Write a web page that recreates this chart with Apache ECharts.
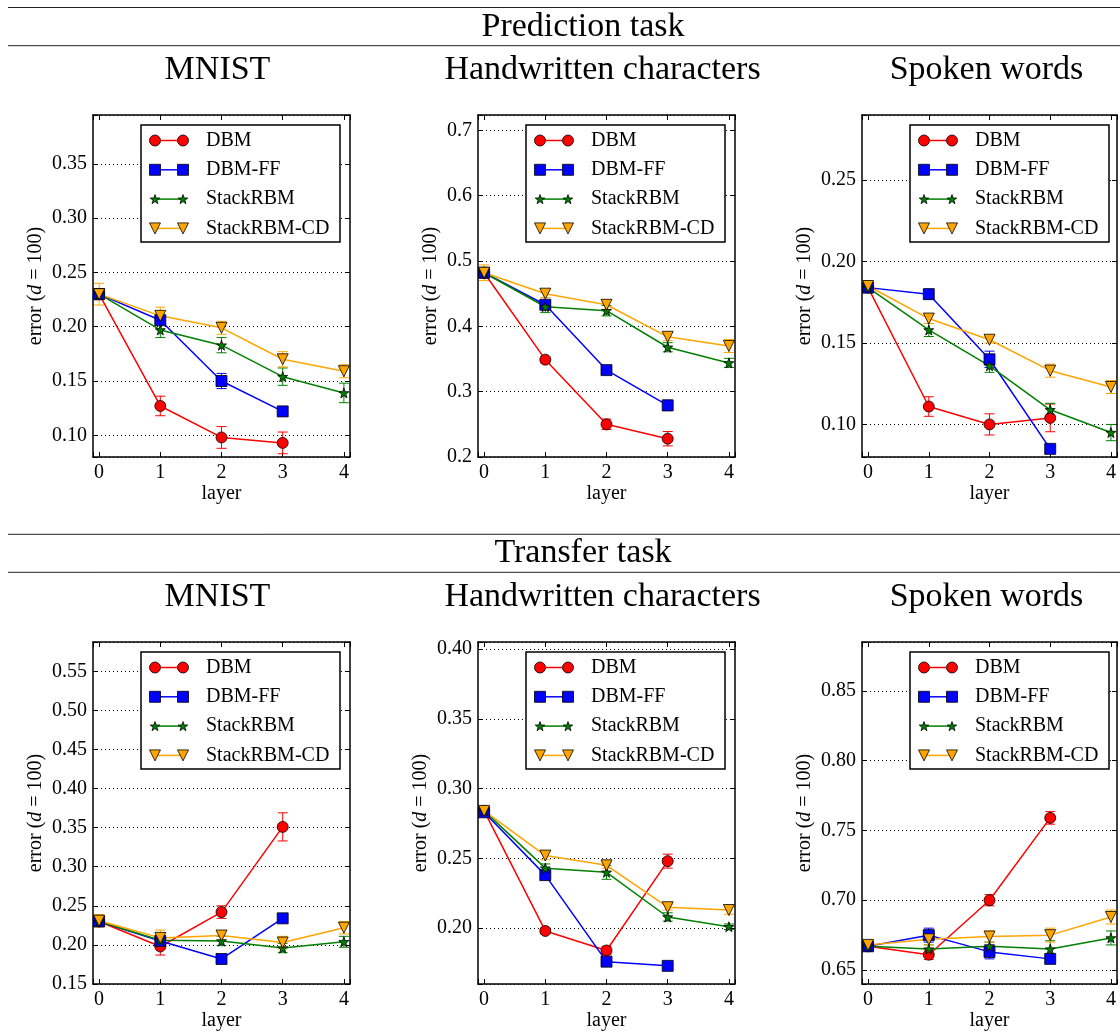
<!DOCTYPE html>
<html><head><meta charset="utf-8">
<script src="https://cdn.jsdelivr.net/npm/echarts@6/dist/echarts.min.js"></script>
<style>html,body{margin:0;padding:0;background:#fff}#c{width:1120px;height:1032px}</style>
</head><body><div id="c"></div><script>
// ---------- data ----------
const layers = [0, 1, 2, 3, 4];
const seriesNames = ['DBM', 'DBM-FF', 'StackRBM', 'StackRBM-CD'];
const panelTitles = ['MNIST', 'Handwritten characters', 'Spoken words'];
const sectionTitles = ['Prediction task', 'Transfer task'];
const xAxisName = 'layer';

// Prediction task - MNIST
const predMnistDBM = [0.230, 0.127, 0.098, 0.093];
const predMnistDBMErr = [0.005, 0.009, 0.010, 0.010];
const predMnistFF = [0.230, 0.206, 0.150, 0.122];
const predMnistFFErr = [0.005, 0.004, 0.007, 0.003];
const predMnistStack = [0.230, 0.197, 0.183, 0.154, 0.139];
const predMnistStackErr = [0.005, 0.007, 0.007, 0.008, 0.009];
const predMnistCD = [0.230, 0.210, 0.199, 0.170, 0.159];
const predMnistCDErr = [0.010, 0.008, 0.006, 0.007, 0.006];
// Prediction task - Handwritten characters
const predHandDBM = [0.482, 0.349, 0.250, 0.228];
const predHandDBMErr = [0.008, 0.005, 0.008, 0.011];
const predHandFF = [0.482, 0.433, 0.333, 0.279];
const predHandFFErr = [0.006, 0.006, 0.004, 0.008];
const predHandStack = [0.482, 0.430, 0.424, 0.368, 0.344];
const predHandStackErr = [0.006, 0.009, 0.008, 0.007, 0.007];
const predHandCD = [0.482, 0.450, 0.433, 0.384, 0.370];
const predHandCDErr = [0.012, 0.006, 0.007, 0.006, 0.010];
// Prediction task - Spoken words
const predSpokenDBM = [0.184, 0.111, 0.100, 0.104];
const predSpokenDBMErr = [0.002, 0.006, 0.0065, 0.0085];
const predSpokenFF = [0.184, 0.180, 0.140, 0.085];
const predSpokenFFErr = [0.002, 0.003, 0.005, 0.002];
const predSpokenStack = [0.184, 0.158, 0.136, 0.109, 0.095];
const predSpokenStackErr = [0.002, 0.004, 0.004, 0.004, 0.005];
const predSpokenCD = [0.185, 0.165, 0.152, 0.133, 0.123];
const predSpokenCDErr = [0.003, 0.003, 0.002, 0.004, 0.004];
// Transfer task - MNIST
const transMnistDBM = [0.230, 0.198, 0.242, 0.351];
const transMnistDBMErr = [0.006, 0.011, 0.008, 0.018];
const transMnistFF = [0.230, 0.205, 0.182, 0.234];
const transMnistFFErr = [0.006, 0.004, 0.003, 0.004];
const transMnistStack = [0.230, 0.206, 0.205, 0.196, 0.204];
const transMnistStackErr = [0.006, 0.005, 0.006, 0.006, 0.007];
const transMnistCD = [0.231, 0.209, 0.212, 0.203, 0.222];
const transMnistCDErr = [0.008, 0.010, 0.006, 0.008, 0.008];
// Transfer task - Handwritten characters
const transHandDBM = [0.284, 0.198, 0.184, 0.248];
const transHandDBMErr = [0.003, 0.002, 0.003, 0.005];
const transHandFF = [0.283, 0.238, 0.176, 0.173];
const transHandFFErr = [0.002, 0.002, 0.002, 0.002];
const transHandStack = [0.284, 0.243, 0.240, 0.208, 0.201];
const transHandStackErr = [0.003, 0.003, 0.005, 0.003, 0.002];
const transHandCD = [0.284, 0.252, 0.245, 0.215, 0.213];
const transHandCDErr = [0.003, 0.003, 0.002, 0.002, 0.003];
// Transfer task - Spoken words
const transSpokenDBM = [0.667, 0.661, 0.700, 0.759];
const transSpokenDBMErr = [0.002, 0.0035, 0.004, 0.0045];
const transSpokenFF = [0.667, 0.675, 0.663, 0.658];
const transSpokenFFErr = [0.002, 0.005, 0.005, 0.003];
const transSpokenStack = [0.667, 0.665, 0.667, 0.665, 0.673];
const transSpokenStackErr = [0.002, 0.003, 0.003, 0.006, 0.005];
const transSpokenCD = [0.668, 0.672, 0.674, 0.675, 0.688];
const transSpokenCDErr = [0.002, 0.004, 0.004, 0.005, 0.005];

// ---------- layout / style ----------
const FONT = '"Liberation Serif", "Times New Roman", serif';
const colors = ['#ff0000', '#0000ff', '#008000', '#ffa500'];
const STAR_PTS = [[0,-10],[2.35,-3.24],[9.51,-3.09],[3.8,1.24],[5.88,8.09],[0,4],[-5.88,8.09],[-3.8,1.24],[-9.51,-3.09],[-2.35,-3.24]];
const STAR = 'path://M' + STAR_PTS.map(q => q.join(',')).join(' L') + ' Z';
const symbols = ['circle', 'rect', STAR, 'triangle'];
const symbolSizes = [11, 11, 10, 11];
const symbolRot = [0, 0, 0, 180];
const colLeft = [93, 478, 862];
const rowTop = [115, 642];
const W = 257, H = 342;

const panels = [
  {row: 0, col: 0, min: 0.08, max: 0.395, step: 0.05, dec: 2, nameGap: 47,
   vals: [predMnistDBM, predMnistFF, predMnistStack, predMnistCD],
   errs: [predMnistDBMErr, predMnistFFErr, predMnistStackErr, predMnistCDErr]},
  {row: 0, col: 1, min: 0.2, max: 0.7235, step: 0.1, dec: 1, nameGap: 37,
   vals: [predHandDBM, predHandFF, predHandStack, predHandCD],
   errs: [predHandDBMErr, predHandFFErr, predHandStackErr, predHandCDErr]},
  {row: 0, col: 2, min: 0.08, max: 0.29, step: 0.05, dec: 2, nameGap: 47,
   vals: [predSpokenDBM, predSpokenFF, predSpokenStack, predSpokenCD],
   errs: [predSpokenDBMErr, predSpokenFFErr, predSpokenStackErr, predSpokenCDErr]},
  {row: 1, col: 0, min: 0.15, max: 0.5875, step: 0.05, dec: 2, nameGap: 47,
   vals: [transMnistDBM, transMnistFF, transMnistStack, transMnistCD],
   errs: [transMnistDBMErr, transMnistFFErr, transMnistStackErr, transMnistCDErr]},
  {row: 1, col: 1, min: 0.16, max: 0.405, step: 0.05, dec: 2, nameGap: 47,
   vals: [transHandDBM, transHandFF, transHandStack, transHandCD],
   errs: [transHandDBMErr, transHandFFErr, transHandStackErr, transHandCDErr]},
  {row: 1, col: 2, min: 0.64, max: 0.885, step: 0.05, dec: 2, nameGap: 47,
   vals: [transSpokenDBM, transSpokenFF, transSpokenStack, transSpokenCD],
   errs: [transSpokenDBMErr, transSpokenFFErr, transSpokenStackErr, transSpokenCDErr]}
];

const grids = [], xAxes = [], yAxes = [], series = [], graphics = [];
const axisLineStyle = {onZero: false, lineStyle: {color: '#000', width: 1.5}};
const tickStyle = {inside: true, length: 5, lineStyle: {color: '#000', width: 1}};

panels.forEach((p, i) => {
  const gl = colLeft[p.col], gt = rowTop[p.row];
  grids.push({left: gl, top: gt, width: W, height: H, show: false, containLabel: false});
  xAxes.push({gridIndex: i, type: 'value', min: -0.1, max: 4.1, minInterval: 1, maxInterval: 1,
    position: 'bottom', name: xAxisName, nameLocation: 'middle', nameGap: 25,
    nameTextStyle: {fontFamily: FONT, fontSize: 20, color: '#000'},
    axisLine: axisLineStyle, axisTick: tickStyle,
    axisLabel: {margin: 6, fontFamily: FONT, fontSize: 20, color: '#000',
      formatter: v => Math.abs(v - Math.round(v)) < 1e-6 ? String(Math.round(v)) : ''},
    splitLine: {show: false}});
  xAxes.push({gridIndex: i, type: 'value', min: -0.1, max: 4.1, minInterval: 1, maxInterval: 1,
    position: 'top', axisLine: axisLineStyle, axisTick: tickStyle,
    axisLabel: {show: false}, splitLine: {show: false}});
  const fmt = v => {
    const k = v / p.step;
    return Math.abs(k - Math.round(k)) < 1e-6 ? v.toFixed(p.dec) : '';
  };
  yAxes.push({gridIndex: i, type: 'value', min: p.min, max: p.max,
    minInterval: p.step, maxInterval: p.step, position: 'left',
    name: 'error ({i|d} = 100)', nameLocation: 'middle', nameRotate: 90, nameGap: p.nameGap,
    nameTextStyle: {fontFamily: FONT, fontSize: 20, color: '#000',
      rich: {i: {fontFamily: FONT, fontSize: 20, fontStyle: 'italic', color: '#000'}}},
    axisLine: axisLineStyle, axisTick: tickStyle,
    axisLabel: {margin: 6, fontFamily: FONT, fontSize: 20, color: '#000', formatter: fmt},
    splitLine: {show: true, lineStyle: {color: '#000', width: 1, type: [1, 3]}}});
  yAxes.push({gridIndex: i, type: 'value', min: p.min, max: p.max,
    minInterval: p.step, maxInterval: p.step, position: 'right',
    axisLine: axisLineStyle, axisTick: tickStyle,
    axisLabel: {show: false}, splitLine: {show: false}});

  seriesNames.forEach((name, s) => {
    const vals = p.vals[s], errs = p.errs[s];
    const col = colors[s];
    series.push({
      type: 'custom', name: name, xAxisIndex: 2 * i, yAxisIndex: 2 * i,
      data: vals.map((v, k) => [layers[k], v, errs[k]]),
      encode: {x: 0, y: 1},
      silent: true, z: 2,
      renderItem: (params, api) => {
        const x = api.value(0), v = api.value(1), e = api.value(2);
        const t = api.coord([x, v + e]), b = api.coord([x, v - e]);
        const st = {stroke: col, lineWidth: 1, fill: null};
        return {type: 'group', children: [
          {type: 'line', shape: {x1: t[0], y1: t[1], x2: b[0], y2: b[1]}, style: st},
          {type: 'line', shape: {x1: t[0] - 5, y1: t[1], x2: t[0] + 5, y2: t[1]}, style: st},
          {type: 'line', shape: {x1: b[0] - 5, y1: b[1], x2: b[0] + 5, y2: b[1]}, style: st}
        ]};
      }
    });
    series.push({
      type: 'line', name: name, xAxisIndex: 2 * i, yAxisIndex: 2 * i,
      data: vals.map((v, k) => [layers[k], v]),
      symbol: symbols[s], symbolSize: symbolSizes[s], symbolRotate: symbolRot[s],
      showSymbol: true, z: 2,
      lineStyle: {color: col, width: 1.5},
      itemStyle: {color: col, borderColor: '#000', borderWidth: 0.8},
      emphasis: {disabled: true}
    });
  });

  graphics.push({type: 'text', z: 60, style: {text: panelTitles[p.col], x: gl + W / 2 - 4,
    y: p.row === 0 ? 70.5 : 597.5, fontFamily: FONT, fontSize: 34, fill: '#000',
    align: 'center', verticalAlign: 'middle'}});

  const lw = 199, lh = 117;
  const lx = gl + W - 10 - lw, ly = gt + 10;
  graphics.push({type: 'rect', z: 50, shape: {x: lx, y: ly, width: lw, height: lh},
    style: {fill: '#fff', stroke: '#000', lineWidth: 1.5}});
  seriesNames.forEach((name, s) => {
    const cy = ly + 15.5 + s * 29.3;
    const col = colors[s];
    const x1 = lx + 14, x2 = lx + 42;
    graphics.push({type: 'line', z: 51, shape: {x1: x1, y1: cy, x2: x2, y2: cy},
      style: {stroke: col, lineWidth: 1.5}});
    [x1, x2].forEach(mx => {
      const st = {fill: col, stroke: '#000', lineWidth: 0.8};
      if (s === 0) graphics.push({type: 'circle', z: 52, shape: {cx: mx, cy: cy, r: 5.5}, style: st});
      else if (s === 1) graphics.push({type: 'rect', z: 52, shape: {x: mx - 5.5, y: cy - 5.5, width: 11, height: 11}, style: st});
      else if (s === 2) graphics.push({type: 'polygon', z: 52,
        shape: {points: STAR_PTS.map(q => [mx + q[0] * 0.5, cy + q[1] * 0.5 + 0.5])}, style: st});
      else graphics.push({type: 'polygon', z: 52, shape: {points: [[mx - 5.5, cy - 5.5], [mx + 5.5, cy - 5.5], [mx, cy + 5.5]]}, style: st});
    });
    graphics.push({type: 'text', z: 52, style: {text: name, x: lx + 65, y: cy,
      fontFamily: FONT, fontSize: 20, fill: '#000', align: 'left', verticalAlign: 'middle'}});
  });
});

[[7.5, 45.7, 26.6], [534.3, 572.3, 553.5]].forEach((r, k) => {
  graphics.push({type: 'line', z: 40, shape: {x1: 8, y1: r[0], x2: 1120, y2: r[0]}, style: {stroke: '#222', lineWidth: 1}});
  graphics.push({type: 'line', z: 40, shape: {x1: 8, y1: r[1], x2: 1120, y2: r[1]}, style: {stroke: '#222', lineWidth: 1}});
  graphics.push({type: 'text', z: 60, style: {text: sectionTitles[k], x: 583, y: r[2],
    fontFamily: FONT, fontSize: 34, fill: '#000', align: 'center', verticalAlign: 'middle'}});
});

const chart = echarts.init(document.getElementById('c'), null, {renderer: 'canvas'});
chart.setOption({
  animation: false,
  backgroundColor: '#fff',
  grid: grids, xAxis: xAxes, yAxis: yAxes, series: series,
  graphic: {elements: graphics}
});
</script></body></html>
